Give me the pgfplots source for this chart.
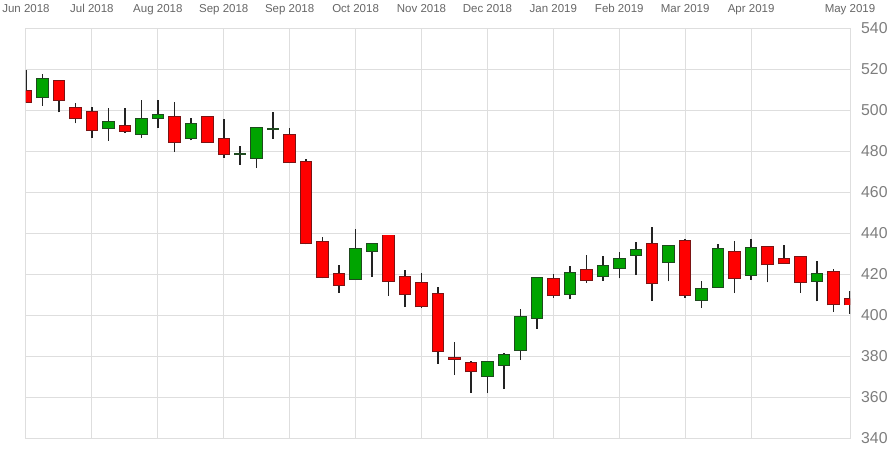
\documentclass[border=0pt]{standalone}
\usepackage{fontspec}
\setmainfont{Liberation Sans}
\usepackage{pgfplots}
\pgfplotsset{compat=1.18}
\usepackage{pgfplotstable}

\definecolor{gridc}{HTML}{DEDEDE}
\definecolor{upfill}{HTML}{00A400}
\definecolor{upedge}{HTML}{1E4A1E}
\definecolor{dnfill}{HTML}{FF0000}
\definecolor{dnedge}{HTML}{7A1414}
\definecolor{wick}{HTML}{222222}
\definecolor{labc}{HTML}{666666}

% weekly candles: index, open, high, low, close
\pgfplotstableread{
i o h l c
1 506.2 517.6 502.1 515.3
5 491.1 501.0 485.0 494.3
7 488.4 504.9 486.5 495.6
8 496.3 504.9 491.4 497.6
10 486.2 496.1 485.2 493.2
13 478.4 482.6 473.3 478.4
14 476.6 491.9 471.6 491.4
15 490.9 499.0 486.0 490.9
20 417.7 441.8 417.3 432.0
21 431.2 435.2 418.5 434.5
28 370.1 377.5 361.9 377.1
29 375.8 381.3 363.9 380.3
30 382.8 402.9 378.0 398.9
31 398.7 418.7 393.3 417.9
33 410.4 423.9 407.6 420.5
35 418.9 428.8 416.6 423.8
36 423.1 430.7 417.9 427.5
37 429.3 435.5 419.4 431.6
39 425.7 434.1 416.4 433.7
41 407.5 416.6 403.4 412.5
42 413.8 434.6 413.5 432.0
44 419.6 437.1 417.2 432.5
48 416.7 426.3 406.7 419.9
}\up

\pgfplotstableread{
i o h l c
0 509.3 519.5 503.5 503.9
2 514.1 514.5 498.9 505.0
3 501.1 503.4 493.5 496.0
4 498.9 501.5 486.5 490.2
6 492.2 501.1 488.8 489.8
9 496.6 504.0 479.4 484.5
11 496.4 497.2 484.0 484.5
12 485.7 495.6 476.6 478.4
16 487.7 491.2 474.0 474.5
17 474.5 476.0 434.5 435.0
18 435.8 437.9 417.9 418.7
19 419.9 424.4 410.9 414.6
22 438.8 439.0 409.4 416.7
23 418.5 421.8 403.8 410.1
24 415.6 420.3 403.3 404.2
25 410.1 413.5 376.1 382.3
26 379.0 387.0 370.7 378.6
27 376.8 377.5 362.1 372.5
32 417.6 419.8 408.5 409.6
34 421.8 429.3 415.5 417.1
38 434.6 442.8 406.8 415.5
40 436.0 437.2 408.5 409.6
43 430.6 436.1 410.7 417.9
45 433.2 433.5 415.9 424.7
46 427.5 434.1 425.0 425.2
47 428.1 428.5 410.9 416.2
49 421.1 422.3 401.6 405.2
50 407.7 411.6 400.5 405.1
}\down

\begin{document}
\begin{tikzpicture}
\useasboundingbox (-26pt,-10pt) rectangle (866pt,438pt);
\begin{axis}[
  scale only axis, width=824pt, height=410pt,
  xmin=0, xmax=50, ymin=340, ymax=540,
  xtick={0,4,8,12,16,20,24,28,32,36,40,44,50},
  xticklabels={Jun 2018,Jul 2018,Aug 2018,Sep 2018,Sep 2018,Oct 2018,Nov 2018,Dec 2018,Jan 2019,Feb 2019,Mar 2019,Apr 2019,May 2019},
  ytick={340,360,...,540},
  xticklabel pos=upper, yticklabel pos=right,
  grid=major, major grid style={draw=gridc, line width=1pt},
  axis line style={draw=gridc, line width=1pt},
  major tick length=0pt, tick style={draw=none},
  xticklabel style={font=\fontsize{11.5}{12}\selectfont, text=labc, anchor=base, inner sep=0pt, yshift=16pt},
  yticklabel style={font=\fontsize{15.8}{18}\selectfont, text=labc!85, anchor=west, inner sep=0pt, xshift=11pt},
  /pgf/number format/assume math mode=true,
  candle/.style={draw=none, no marks, error bars/.cd, y dir=plus, y explicit, error mark=none},
]
% wicks
\addplot[candle, error bar style={draw=wick, line width=1.5pt}]
  table[x=i, y=l, y error expr=\thisrow{h}-\thisrow{l}] {\up};
\addplot[candle, error bar style={draw=wick, line width=1.5pt}]
  table[x=i, y=l, y error expr=\thisrow{h}-\thisrow{l}] {\down};
% body outlines
\addplot[candle, error bar style={draw=upedge, line width=12.5pt}]
  table[x=i, y expr={min(\thisrow{o},\thisrow{c})-0.45}, y error expr={abs(\thisrow{c}-\thisrow{o})+0.9}] {\up};
\addplot[candle, error bar style={draw=dnedge, line width=12.5pt}]
  table[x=i, y expr={min(\thisrow{o},\thisrow{c})-0.45}, y error expr={abs(\thisrow{c}-\thisrow{o})+0.9}] {\down};
% body fills
\addplot[candle, error bar style={draw=upfill, line width=10.5pt}]
  table[x=i, y expr={min(\thisrow{o},\thisrow{c})}, y error expr={abs(\thisrow{c}-\thisrow{o})}] {\up};
\addplot[candle, error bar style={draw=dnfill, line width=10.5pt}]
  table[x=i, y expr={min(\thisrow{o},\thisrow{c})}, y error expr={abs(\thisrow{c}-\thisrow{o})}] {\down};
\end{axis}
\end{tikzpicture}
\end{document}
